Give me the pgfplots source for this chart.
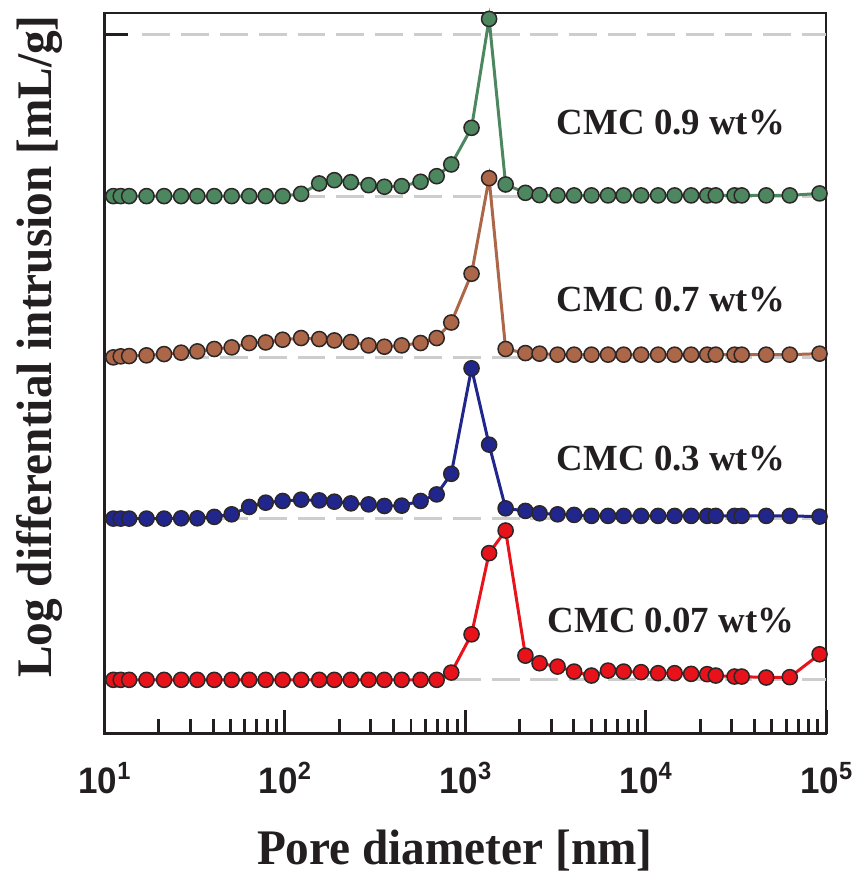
\documentclass[border=0pt]{standalone}
\usepackage{pgfplots}
\pgfplotsset{compat=1.18}
\usepackage{pgfplotstable}
\usepackage{fontspec}
\setmainfont{Liberation Serif}
\newfontfamily\labfont[FakeStretch=0.95]{Liberation Serif}
\newfontfamily\tickfont[FakeStretch=0.95]{Liberation Sans}
\definecolor{txt}{RGB}{35,31,32}
\definecolor{cgreen}{RGB}{76,135,96}
\definecolor{cbrown}{RGB}{172,102,72}
\definecolor{cblue}{RGB}{32,38,140}
\definecolor{cred}{RGB}{232,18,26}
\definecolor{mdraw}{RGB}{45,38,38}
\definecolor{dgray}{RGB}{205,205,205}
\newcommand{\tl}[1]{\fontsize{37}{37}\selectfont\tickfont\bfseries 10\raisebox{14pt}{\fontsize{25}{25}\selectfont #1}}
\pgfplotsset{every tick/.style={line width=3pt, txt}}

% offsets above each baseline (in px-like units); baselines at 0,162,324,486
\pgfplotstableread{
d      r     b     br    g
11.2   0     0     0     0
12.3   0     0     1     0
13.7   0     0     1.3   0
17.1   0     0     2     0
21.4   0     0     3.3   0
26.6   0     0.3   4.7   0
32.7   0     0.3   6     0
40.6   0     1.7   8.4   0
50.7   0     4.3   10    0
63.4   0     11.7  14.4  0
78.3   0     16    15    0
97.2   0     17.7  17.7  0
123    0     19    19.4  2.3
155    0     18.3  18.4  12.7
188    0     17    17    16
232    0     15.3  15.4  14
291    0     14.3  12    11
356    0     12.7  10.7  9.4
444    0     13    12    10
565    0     17.7  14.4  14.4
694    0     24.3  19.4  20
836    7.3   45    35    31.8
1083   45.7  151   84    68.6
1355   127.3 74.3  180   178
1673   150   10.3  8.4   11.7
2154   24.3  7.7   4.3   3.3
2580   16.7  5.3   3.7   1
3246   13.3  4.3   2.7   0.7
4009   8.3   3.7   2.7   0.7
5006   4.3   2.7   2.7   0.7
6183   9.3   2.7   2.7   0.7
7547   8.3   2.7   2.7   0.7
9425   7.7   2.7   2.7   0.7
11716  6.7   2.7   2.7   0.7
14466  6.7   2.7   2.7   0.7
17860  6     2.7   2.7   0.7
21914  5.7   2.7   2.7   0.7
24444  4.3   2.7   2.7   0.7
31077  3.3   2.7   2.7   0.7
34058  3.3   2.7   2.7   0.7
46546  2.3   2.7   2.7   0.7
62898  2.7   2.7   2.7   0.7
91963  25.7  2     3.7   2.7
}\data

\begin{document}
\begin{tikzpicture}
\begin{axis}[
  scale only axis, width=725pt, height=724pt,
  xmode=log, log basis x=10,
  xmin=10, xmax=100000, ymin=-54, ymax=670,
  clip=false,
  axis line style={line width=2.5pt, draw=txt},
  tick align=inside,
  xtick pos=bottom, ytick pos=left,
  xtick={10,100,1000,10000,100000},
  xticklabels={\tl{1},\tl{2},\tl{3},\tl{4},\tl{5}},
  minor xtick={20,30,40,50,60,70,80,90,200,300,400,500,600,700,800,900,2000,3000,4000,5000,6000,7000,8000,9000,20000,30000,40000,50000,60000,70000,80000,90000},
  ytick={648}, yticklabels={},
  major tick length=24pt, minor tick length=15pt,
  major tick style={line width=3pt, txt},
  minor tick style={line width=3pt, txt},
  xticklabel style={anchor=base, yshift=-60pt, inner sep=0pt, text=txt},
]
% dashed baselines
\foreach \yy in {0,162,324,486,648}{
  \edef\temp{\noexpand\addplot[dgray, line width=3pt, dash pattern=on 28pt off 11pt, forget plot] coordinates {(16.2,\yy) (100000,\yy)};}
  \temp
}
\addplot[cgreen, line width=3pt, mark=*, mark size=7.6pt, mark options={fill=cgreen, draw=mdraw, line width=1.5pt}] table[x=d, y expr=\thisrow{g}+486] {\data};
\addplot[cbrown, line width=3pt, mark=*, mark size=7.6pt, mark options={fill=cbrown, draw=mdraw, line width=1.5pt}] table[x=d, y expr=\thisrow{br}+324] {\data};
\addplot[cblue, line width=3pt, mark=*, mark size=7.6pt, mark options={fill=cblue, draw=mdraw, line width=1.5pt}] table[x=d, y expr=\thisrow{b}+162] {\data};
\addplot[cred, line width=3pt, mark=*, mark size=7.6pt, mark options={fill=cred, draw=mdraw, line width=1.5pt}] table[x=d, y expr=\thisrow{r}] {\data};

\node[anchor=base, text=txt, font=\fontsize{37}{37}\selectfont\bfseries] at (rel axis cs:0.785,0.8315) {CMC 0.9 wt\%};
\node[anchor=base, text=txt, font=\fontsize{37}{37}\selectfont\bfseries] at (rel axis cs:0.785,0.5856) {CMC 0.7 wt\%};
\node[anchor=base, text=txt, font=\fontsize{37}{37}\selectfont\bfseries] at (rel axis cs:0.785,0.3646) {CMC 0.3 wt\%};
\node[anchor=base, text=txt, font=\fontsize{37}{37}\selectfont\bfseries] at (rel axis cs:0.785,0.1409) {CMC 0.07 wt\%};

\node[anchor=base, rotate=90, text=txt, font=\labfont\fontsize{50}{50}\selectfont\bfseries] at (rel axis cs:-0.0731,0.537) {Log differential intrusion [mL/g]};
\node[anchor=base, text=txt, font=\labfont\fontsize{50}{50}\selectfont\bfseries] at (rel axis cs:0.4855,-0.181) {Pore diameter [nm]};

\path (rel axis cs:-0.1448,-0.1892) rectangle (rel axis cs:1.0469,1.018);
\end{axis}
\end{tikzpicture}
\end{document}
